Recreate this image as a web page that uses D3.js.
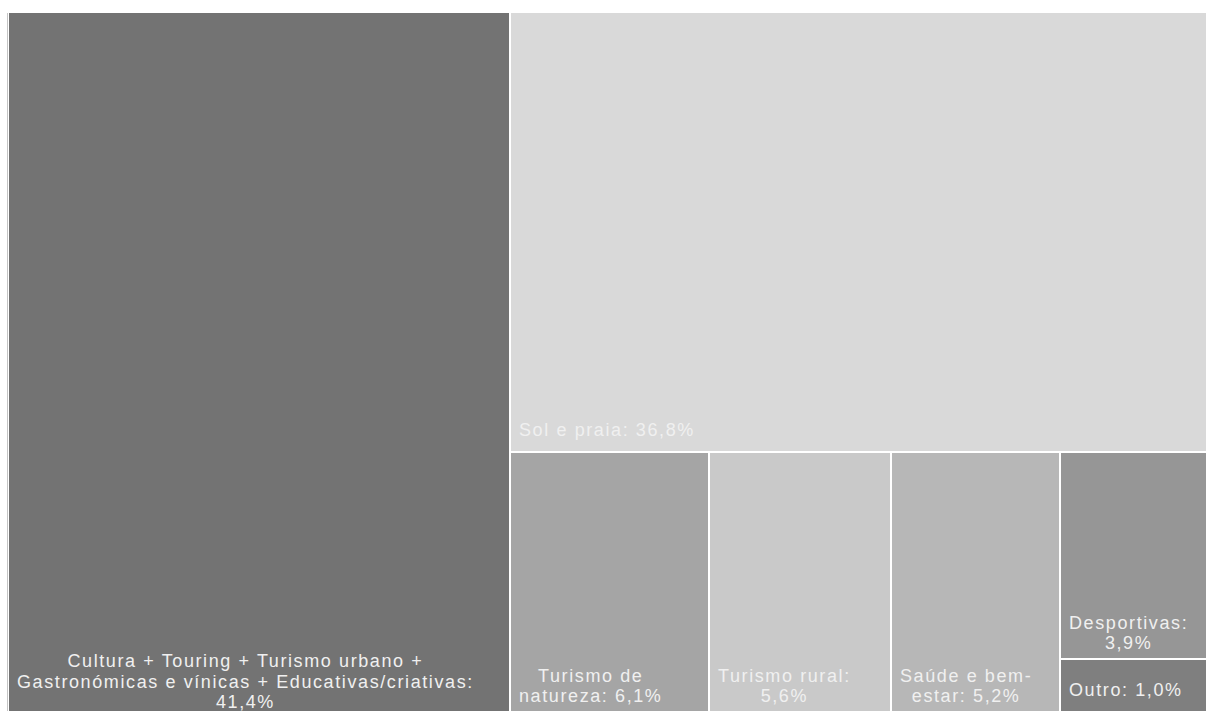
<!DOCTYPE html>
<html>
<head>
<meta charset="utf-8">
<script src="https://cdn.jsdelivr.net/npm/d3@7"></script>
<style>
  body { margin: 0; background: #fff; }
  svg { display: block; }
</style>
</head>
<body>
<svg width="1206" height="711"></svg>
<script>
// categories and their shares (%)
const categories = [
    "Cultura + Touring + Turismo urbano + Gastronómicas e vínicas + Educativas/criativas",
    "Sol e praia",
    "Turismo de natureza",
    "Turismo rural",
    "Saúde e bem-estar",
    "Desportivas",
    "Outro"
];
const values = [41.4, 36.8, 6.1, 5.6, 5.2, 3.9, 1.0];

// fill per category
const colors = ["#737373", "#d9d9d9", "#a5a5a5", "#c9c9c9", "#b7b7b7", "#969696", "#7f7f7f"];

const svg = d3.select("svg");
const marginLeft = 9, marginTop = 13;
const width = 1210, height = 698;

const color = d3.scaleOrdinal(categories, colors);
const fmt = v => d3.format(".1f")(v).replace(".", ",") + "%";

// build leaves, then nest them the way the original tiles them
const leaves = categories.map((c, i) => ({ name: c, value: values[i] }));
const tree = {
    children: [
        leaves[0],
        { children: [
            leaves[1],
            { children: [leaves[2], leaves[3], leaves[4], { children: [leaves[5], leaves[6]] }] }
        ] }
    ]
};

const root = d3.hierarchy(tree).sum(d => d.value || 0);

d3.treemap()
    .tile(d3.treemapSliceDice)
    .size([width, height])
    .paddingInner(2)
    .round(true)(root);

// thin border line on the left edge
svg.append("line")
    .attr("x1", 7.5).attr("x2", 7.5)
    .attr("y1", marginTop).attr("y2", 711)
    .attr("stroke", "#c4c4c4");

const g = svg.append("g").attr("transform", `translate(${marginLeft},${marginTop})`);

const cell = g.selectAll("g.cell")
    .data(root.leaves())
    .enter()
    .append("g")
    .attr("class", "cell");

cell.append("rect")
    .attr("x", d => d.x0)
    .attr("y", d => d.y0)
    .attr("width", d => d.x1 - d.x0)
    .attr("height", d => d.y1 - d.y0)
    .attr("fill", d => color(d.data.name));

// labels: wrap to cell width, lines centered on each other, block sits bottom-left
const fontSize = 18, lineH = 20.5, pad = 8;

cell.each(function(d) {
    const label = d.data.name + ": " + fmt(d.data.value);
    const maxW = d.x1 - d.x0 - 2 * pad;
    // split after spaces and hyphens
    const tokens = label.match(/[^\s-]+-?|\s+/g).filter(t => t.trim() !== "");
    const joinTok = (a, b) => a === "" ? b : (a.endsWith("-") ? a + b : a + " " + b);

    const text = d3.select(this).append("text")
        .attr("font-family", "'Liberation Sans', Arial, sans-serif")
        .attr("font-size", fontSize)
        .attr("letter-spacing", 1.6)
        .attr("fill", "#f0f0f0")
        .attr("text-anchor", "middle");

    const probe = text.append("tspan");
    const measure = s => { probe.text(s); return probe.node().getComputedTextLength(); };

    const lines = [];
    let cur = "";
    tokens.forEach(t => {
        const next = joinTok(cur, t);
        if (cur !== "" && measure(next) > maxW) {
            lines.push(cur);
            cur = t;
        } else {
            cur = next;
        }
    });
    lines.push(cur);

    const widths = lines.map(measure);
    probe.remove();
    const blockW = d3.max(widths);
    const cx = d.x0 + pad + blockW / 2;
    const n = lines.length;
    const lastBase = d.y1 - 15 + 6 * (n - 1);

    lines.forEach((l, i) => {
        text.append("tspan")
            .attr("x", cx)
            .attr("y", lastBase - (n - 1 - i) * lineH)
            .text(l);
    });
});
</script>
</body>
</html>
